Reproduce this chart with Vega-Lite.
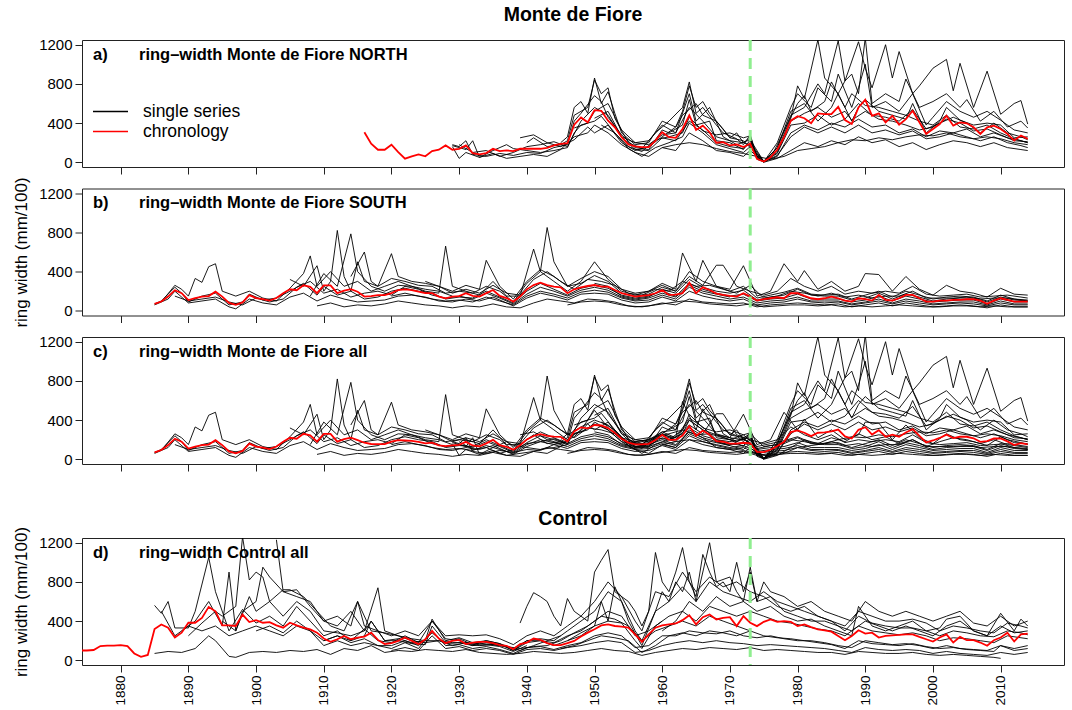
{
"$schema": "https://vega.github.io/schema/vega-lite/v6.json",
"padding": {"left": 12, "top": 4, "right": 2, "bottom": 0},
"config": {
 "font": "Liberation Sans",
 "view": {"stroke": "#222222", "strokeWidth": 1},
 "axis": {"domain": false, "grid": false, "tickColor": "#222222", "tickSize": 7, "labelColor": "black", "labelFontSize": 15, "labelPadding": 3, "titleColor": "black", "titleFontWeight": "normal", "titleFontSize": 17},
 "title": {"color": "black", "fontSize": 19.5, "fontWeight": "bold", "offset": 12, "frame": "group", "anchor": "middle"}
},
"datasets": {
"N": [
{"s":1,"x":1929,"v":180},{"s":1,"x":1930,"v":160},{"s":1,"x":1931,"v":220},{"s":1,"x":1932,"v":80},{"s":1,"x":1934,"v":60},{"s":1,"x":1936,"v":90},{"s":1,"x":1938,"v":70},{"s":1,"x":1940,"v":100},{"s":1,"x":1942,"v":90},{"s":1,"x":1944,"v":150},{"s":1,"x":1946,"v":180},{"s":1,"x":1947,"v":420},{"s":1,"x":1948,"v":500},{"s":1,"x":1950,"v":680},{"s":1,"x":1951,"v":620},{"s":1,"x":1952,"v":460},{"s":1,"x":1954,"v":280},{"s":1,"x":1956,"v":150},{"s":1,"x":1958,"v":130},{"s":1,"x":1960,"v":330},{"s":1,"x":1961,"v":300},{"s":1,"x":1963,"v":380},{"s":1,"x":1964,"v":640},{"s":1,"x":1965,"v":380},{"s":1,"x":1967,"v":420},{"s":1,"x":1968,"v":220},{"s":1,"x":1970,"v":200},{"s":1,"x":1972,"v":130},{"s":1,"x":1973,"v":230},{"s":1,"x":1974,"v":30},{"s":1,"x":1975,"v":5},{"s":1,"x":1977,"v":150},{"s":1,"x":1979,"v":520},{"s":1,"x":1981,"v":600},{"s":1,"x":1983,"v":420},{"s":1,"x":1985,"v":560},{"s":1,"x":1986,"v":700},{"s":1,"x":1988,"v":420},{"s":1,"x":1989,"v":560},{"s":1,"x":1990,"v":640},{"s":1,"x":1992,"v":520},{"s":1,"x":1994,"v":480},{"s":1,"x":1996,"v":440},{"s":1,"x":1997,"v":600},{"s":1,"x":1999,"v":300},{"s":1,"x":2001,"v":420},{"s":1,"x":2002,"v":560},{"s":1,"x":2004,"v":430},{"s":1,"x":2006,"v":380},{"s":1,"x":2008,"v":400},{"s":1,"x":2010,"v":380},{"s":1,"x":2012,"v":250},{"s":1,"x":2014,"v":260},
{"s":2,"x":1929,"v":160},{"s":2,"x":1930,"v":40},{"s":2,"x":1931,"v":100},{"s":2,"x":1933,"v":50},{"s":2,"x":1935,"v":90},{"s":2,"x":1937,"v":40},{"s":2,"x":1939,"v":60},{"s":2,"x":1941,"v":80},{"s":2,"x":1943,"v":60},{"s":2,"x":1945,"v":130},{"s":2,"x":1947,"v":260},{"s":2,"x":1949,"v":300},{"s":2,"x":1950,"v":380},{"s":2,"x":1952,"v":300},{"s":2,"x":1954,"v":180},{"s":2,"x":1956,"v":100},{"s":2,"x":1958,"v":60},{"s":2,"x":1960,"v":150},{"s":2,"x":1962,"v":120},{"s":2,"x":1964,"v":300},{"s":2,"x":1966,"v":220},{"s":2,"x":1968,"v":120},{"s":2,"x":1970,"v":100},{"s":2,"x":1972,"v":60},{"s":2,"x":1973,"v":120},{"s":2,"x":1975,"v":0},{"s":2,"x":1977,"v":40},{"s":2,"x":1979,"v":120},{"s":2,"x":1981,"v":200},{"s":2,"x":1983,"v":160},{"s":2,"x":1985,"v":220},{"s":2,"x":1987,"v":180},{"s":2,"x":1989,"v":260},{"s":2,"x":1991,"v":200},{"s":2,"x":1993,"v":230},{"s":2,"x":1995,"v":160},{"s":2,"x":1997,"v":200},{"s":2,"x":1999,"v":130},{"s":2,"x":2001,"v":180},{"s":2,"x":2003,"v":220},{"s":2,"x":2005,"v":200},{"s":2,"x":2007,"v":160},{"s":2,"x":2009,"v":200},{"s":2,"x":2011,"v":150},{"s":2,"x":2013,"v":130},{"s":2,"x":2014,"v":120},
{"s":3,"x":1940,"v":200},{"s":3,"x":1941,"v":250},{"s":3,"x":1943,"v":160},{"s":3,"x":1945,"v":180},{"s":3,"x":1946,"v":220},{"s":3,"x":1947,"v":480},{"s":3,"x":1949,"v":560},{"s":3,"x":1950,"v":840},{"s":3,"x":1951,"v":700},{"s":3,"x":1952,"v":760},{"s":3,"x":1953,"v":450},{"s":3,"x":1955,"v":200},{"s":3,"x":1957,"v":140},{"s":3,"x":1959,"v":300},{"s":3,"x":1961,"v":420},{"s":3,"x":1963,"v":560},{"s":3,"x":1964,"v":820},{"s":3,"x":1965,"v":500},{"s":3,"x":1966,"v":560},{"s":3,"x":1968,"v":380},{"s":3,"x":1969,"v":300},{"s":3,"x":1971,"v":240},{"s":3,"x":1972,"v":180},{"s":3,"x":1973,"v":280},{"s":3,"x":1974,"v":60},{"s":3,"x":1975,"v":5},{"s":3,"x":1976,"v":40},{"s":3,"x":1978,"v":320},{"s":3,"x":1980,"v":600},{"s":3,"x":1981,"v":680},{"s":3,"x":1982,"v":520},{"s":3,"x":1984,"v":620},{"s":3,"x":1985,"v":820},{"s":3,"x":1987,"v":560},{"s":3,"x":1988,"v":700},{"s":3,"x":1990,"v":580},{"s":3,"x":1992,"v":560},{"s":3,"x":1994,"v":520},{"s":3,"x":1996,"v":480},{"s":3,"x":1998,"v":420},{"s":3,"x":2000,"v":380},{"s":3,"x":2002,"v":480},{"s":3,"x":2004,"v":360},{"s":3,"x":2006,"v":340},{"s":3,"x":2008,"v":380},{"s":3,"x":2010,"v":300},{"s":3,"x":2012,"v":240},{"s":3,"x":2014,"v":200},
{"s":4,"x":1929,"v":170},{"s":4,"x":1931,"v":130},{"s":4,"x":1932,"v":220},{"s":4,"x":1933,"v":50},{"s":4,"x":1935,"v":120},{"s":4,"x":1937,"v":180},{"s":4,"x":1938,"v":140},{"s":4,"x":1940,"v":120},{"s":4,"x":1942,"v":100},{"s":4,"x":1944,"v":120},{"s":4,"x":1946,"v":150},{"s":4,"x":1947,"v":300},{"s":4,"x":1948,"v":380},{"s":4,"x":1950,"v":420},{"s":4,"x":1951,"v":470},{"s":4,"x":1953,"v":300},{"s":4,"x":1955,"v":140},{"s":4,"x":1957,"v":60},{"s":4,"x":1959,"v":150},{"s":4,"x":1961,"v":200},{"s":4,"x":1963,"v":260},{"s":4,"x":1964,"v":400},{"s":4,"x":1966,"v":300},{"s":4,"x":1968,"v":180},{"s":4,"x":1970,"v":140},{"s":4,"x":1972,"v":100},{"s":4,"x":1973,"v":160},{"s":4,"x":1975,"v":5},{"s":4,"x":1977,"v":70},{"s":4,"x":1979,"v":260},{"s":4,"x":1981,"v":360},{"s":4,"x":1983,"v":300},{"s":4,"x":1985,"v":360},{"s":4,"x":1987,"v":300},{"s":4,"x":1989,"v":380},{"s":4,"x":1991,"v":300},{"s":4,"x":1993,"v":330},{"s":4,"x":1995,"v":280},{"s":4,"x":1997,"v":320},{"s":4,"x":1999,"v":240},{"s":4,"x":2001,"v":260},{"s":4,"x":2003,"v":300},{"s":4,"x":2005,"v":260},{"s":4,"x":2007,"v":220},{"s":4,"x":2009,"v":260},{"s":4,"x":2011,"v":200},{"s":4,"x":2013,"v":170},{"s":4,"x":2014,"v":150},
{"s":5,"x":1945,"v":200},{"s":5,"x":1946,"v":260},{"s":5,"x":1947,"v":560},{"s":5,"x":1948,"v":620},{"s":5,"x":1949,"v":500},{"s":5,"x":1950,"v":860},{"s":5,"x":1951,"v":600},{"s":5,"x":1952,"v":720},{"s":5,"x":1953,"v":500},{"s":5,"x":1954,"v":300},{"s":5,"x":1956,"v":180},{"s":5,"x":1958,"v":200},{"s":5,"x":1960,"v":420},{"s":5,"x":1962,"v":360},{"s":5,"x":1963,"v":520},{"s":5,"x":1964,"v":780},{"s":5,"x":1965,"v":560},{"s":5,"x":1966,"v":620},{"s":5,"x":1967,"v":500},{"s":5,"x":1969,"v":340},{"s":5,"x":1970,"v":250},{"s":5,"x":1971,"v":300},{"s":5,"x":1972,"v":200},{"s":5,"x":1973,"v":250},{"s":5,"x":1974,"v":40},{"s":5,"x":1975,"v":5},{"s":5,"x":1977,"v":200},{"s":5,"x":1979,"v":560},{"s":5,"x":1980,"v":700},{"s":5,"x":1982,"v":560},{"s":5,"x":1983,"v":760},{"s":5,"x":1985,"v":620},{"s":5,"x":1986,"v":900},{"s":5,"x":1988,"v":560},{"s":5,"x":1989,"v":760},{"s":5,"x":1990,"v":1000},{"s":5,"x":1991,"v":560},{"s":5,"x":1993,"v":620},{"s":5,"x":1995,"v":520},{"s":5,"x":1997,"v":700},{"s":5,"x":1999,"v":380},{"s":5,"x":2000,"v":460},{"s":5,"x":2002,"v":620},{"s":5,"x":2004,"v":520},{"s":5,"x":2006,"v":460},{"s":5,"x":2008,"v":520},{"s":5,"x":2010,"v":430},{"s":5,"x":2012,"v":330},{"s":5,"x":2014,"v":300},
{"s":6,"x":1947,"v":350},{"s":6,"x":1949,"v":400},{"s":6,"x":1950,"v":520},{"s":6,"x":1952,"v":600},{"s":6,"x":1954,"v":330},{"s":6,"x":1956,"v":200},{"s":6,"x":1958,"v":180},{"s":6,"x":1960,"v":280},{"s":6,"x":1962,"v":300},{"s":6,"x":1964,"v":560},{"s":6,"x":1966,"v":420},{"s":6,"x":1968,"v":260},{"s":6,"x":1970,"v":220},{"s":6,"x":1972,"v":200},{"s":6,"x":1973,"v":170},{"s":6,"x":1975,"v":10},{"s":6,"x":1977,"v":120},{"s":6,"x":1979,"v":450},{"s":6,"x":1980,"v":780},{"s":6,"x":1981,"v":650},{"s":6,"x":1983,"v":1250},{"s":6,"x":1984,"v":860},{"s":6,"x":1986,"v":700},{"s":6,"x":1987,"v":830},{"s":6,"x":1989,"v":1230},{"s":6,"x":1990,"v":960},{"s":6,"x":1991,"v":760},{"s":6,"x":1993,"v":1200},{"s":6,"x":1994,"v":860},{"s":6,"x":1995,"v":1130},{"s":6,"x":1997,"v":700},{"s":6,"x":1998,"v":780},{"s":6,"x":2000,"v":960},{"s":6,"x":2002,"v":1050},{"s":6,"x":2003,"v":730},{"s":6,"x":2004,"v":1010},{"s":6,"x":2006,"v":560},{"s":6,"x":2008,"v":930},{"s":6,"x":2010,"v":490},{"s":6,"x":2012,"v":600},{"s":6,"x":2013,"v":630},{"s":6,"x":2014,"v":390},
{"s":7,"x":1950,"v":450},{"s":7,"x":1952,"v":520},{"s":7,"x":1954,"v":260},{"s":7,"x":1956,"v":130},{"s":7,"x":1958,"v":120},{"s":7,"x":1960,"v":250},{"s":7,"x":1962,"v":220},{"s":7,"x":1964,"v":420},{"s":7,"x":1966,"v":330},{"s":7,"x":1968,"v":200},{"s":7,"x":1970,"v":160},{"s":7,"x":1972,"v":140},{"s":7,"x":1973,"v":200},{"s":7,"x":1975,"v":8},{"s":7,"x":1977,"v":150},{"s":7,"x":1979,"v":480},{"s":7,"x":1981,"v":560},{"s":7,"x":1983,"v":800},{"s":7,"x":1984,"v":700},{"s":7,"x":1986,"v":1240},{"s":7,"x":1987,"v":830},{"s":7,"x":1988,"v":900},{"s":7,"x":1989,"v":700},{"s":7,"x":1990,"v":1270},{"s":7,"x":1991,"v":600},{"s":7,"x":1993,"v":700},{"s":7,"x":1995,"v":620},{"s":7,"x":1996,"v":850},{"s":7,"x":1998,"v":560},{"s":7,"x":2000,"v":620},{"s":7,"x":2002,"v":700},{"s":7,"x":2004,"v":560},{"s":7,"x":2005,"v":640},{"s":7,"x":2007,"v":420},{"s":7,"x":2009,"v":520},{"s":7,"x":2011,"v":360},{"s":7,"x":2013,"v":420},{"s":7,"x":2014,"v":350},
{"s":8,"x":1930,"v":180},{"s":8,"x":1932,"v":100},{"s":8,"x":1934,"v":120},{"s":8,"x":1936,"v":60},{"s":8,"x":1938,"v":100},{"s":8,"x":1940,"v":160},{"s":8,"x":1942,"v":180},{"s":8,"x":1944,"v":210},{"s":8,"x":1946,"v":160},{"s":8,"x":1948,"v":420},{"s":8,"x":1950,"v":560},{"s":8,"x":1952,"v":480},{"s":8,"x":1954,"v":260},{"s":8,"x":1956,"v":200},{"s":8,"x":1958,"v":220},{"s":8,"x":1960,"v":380},{"s":8,"x":1962,"v":300},{"s":8,"x":1964,"v":700},{"s":8,"x":1965,"v":420},{"s":8,"x":1967,"v":560},{"s":8,"x":1969,"v":260},{"s":8,"x":1971,"v":180},{"s":8,"x":1973,"v":230},{"s":8,"x":1975,"v":10},{"s":8,"x":1977,"v":100},{"s":8,"x":1979,"v":420},{"s":8,"x":1981,"v":500},{"s":8,"x":1983,"v":560},{"s":8,"x":1985,"v":460},{"s":8,"x":1987,"v":520},{"s":8,"x":1988,"v":430},{"s":8,"x":1990,"v":520},{"s":8,"x":1992,"v":440},{"s":8,"x":1994,"v":420},{"s":8,"x":1996,"v":380},{"s":8,"x":1998,"v":330},{"s":8,"x":2000,"v":360},{"s":8,"x":2002,"v":440},{"s":8,"x":2004,"v":400},{"s":8,"x":2006,"v":320},{"s":8,"x":2008,"v":340},{"s":8,"x":2010,"v":280},{"s":8,"x":2012,"v":220},{"s":8,"x":2014,"v":210},
{"s":9,"x":1951,"v":380},{"s":9,"x":1953,"v":300},{"s":9,"x":1955,"v":160},{"s":9,"x":1957,"v":110},{"s":9,"x":1959,"v":230},{"s":9,"x":1961,"v":260},{"s":9,"x":1963,"v":300},{"s":9,"x":1964,"v":460},{"s":9,"x":1966,"v":320},{"s":9,"x":1968,"v":280},{"s":9,"x":1970,"v":300},{"s":9,"x":1972,"v":250},{"s":9,"x":1973,"v":270},{"s":9,"x":1974,"v":50},{"s":9,"x":1975,"v":5},{"s":9,"x":1977,"v":60},{"s":9,"x":1979,"v":300},{"s":9,"x":1981,"v":380},{"s":9,"x":1983,"v":330},{"s":9,"x":1985,"v":400},{"s":9,"x":1987,"v":360},{"s":9,"x":1989,"v":440},{"s":9,"x":1991,"v":360},{"s":9,"x":1993,"v":380},{"s":9,"x":1995,"v":300},{"s":9,"x":1997,"v":340},{"s":9,"x":1999,"v":260},{"s":9,"x":2001,"v":320},{"s":9,"x":2003,"v":300},{"s":9,"x":2005,"v":340},{"s":9,"x":2007,"v":260},{"s":9,"x":2009,"v":300},{"s":9,"x":2011,"v":250},{"s":9,"x":2013,"v":220},{"s":9,"x":2014,"v":200},
{"s":10,"x":1960,"v":150},{"s":10,"x":1962,"v":180},{"s":10,"x":1964,"v":200},{"s":10,"x":1966,"v":180},{"s":10,"x":1968,"v":140},{"s":10,"x":1970,"v":110},{"s":10,"x":1972,"v":90},{"s":10,"x":1974,"v":60},{"s":10,"x":1976,"v":30},{"s":10,"x":1978,"v":60},{"s":10,"x":1980,"v":120},{"s":10,"x":1982,"v":140},{"s":10,"x":1984,"v":160},{"s":10,"x":1986,"v":200},{"s":10,"x":1988,"v":230},{"s":10,"x":1990,"v":220},{"s":10,"x":1992,"v":250},{"s":10,"x":1994,"v":230},{"s":10,"x":1996,"v":260},{"s":10,"x":1998,"v":280},{"s":10,"x":2000,"v":270},{"s":10,"x":2002,"v":300},{"s":10,"x":2004,"v":260},{"s":10,"x":2006,"v":240},{"s":10,"x":2008,"v":260},{"s":10,"x":2010,"v":240},{"s":10,"x":2012,"v":200},{"s":10,"x":2014,"v":180},
{"s":11,"x":1939,"v":250},{"s":11,"x":1941,"v":280},{"s":11,"x":1943,"v":200},{"s":11,"x":1945,"v":160},{"s":11,"x":1947,"v":230},{"s":11,"x":1949,"v":360},{"s":11,"x":1950,"v":300},{"s":11,"x":1952,"v":380},{"s":11,"x":1954,"v":200},{"s":11,"x":1956,"v":120},{"s":11,"x":1958,"v":160},{"s":11,"x":1960,"v":260},{"s":11,"x":1962,"v":360},{"s":11,"x":1963,"v":480},{"s":11,"x":1965,"v":600},{"s":11,"x":1966,"v":480},{"s":11,"x":1968,"v":420},{"s":11,"x":1970,"v":250},{"s":11,"x":1972,"v":220},{"s":11,"x":1973,"v":150},{"s":11,"x":1975,"v":8},{"s":11,"x":1977,"v":90},{"s":11,"x":1979,"v":380},{"s":11,"x":1981,"v":400},{"s":11,"x":1983,"v":480},{"s":11,"x":1985,"v":380},{"s":11,"x":1987,"v":440},{"s":11,"x":1989,"v":600},{"s":11,"x":1991,"v":480},{"s":11,"x":1993,"v":460},{"s":11,"x":1995,"v":420},{"s":11,"x":1997,"v":540},{"s":11,"x":1999,"v":340},{"s":11,"x":2001,"v":400},{"s":11,"x":2003,"v":460},{"s":11,"x":2005,"v":400},{"s":11,"x":2007,"v":300},{"s":11,"x":2009,"v":400},{"s":11,"x":2011,"v":300},{"s":11,"x":2013,"v":260},{"s":11,"x":2014,"v":230}
],
"S": [
{"s":1,"x":1885,"v":70},{"s":1,"x":1886,"v":100},{"s":1,"x":1888,"v":240},{"s":1,"x":1889,"v":180},{"s":1,"x":1890,"v":90},{"s":1,"x":1892,"v":150},{"s":1,"x":1894,"v":180},{"s":1,"x":1896,"v":60},{"s":1,"x":1898,"v":90},{"s":1,"x":1899,"v":170},{"s":1,"x":1901,"v":110},{"s":1,"x":1903,"v":130},{"s":1,"x":1905,"v":200},{"s":1,"x":1907,"v":280},{"s":1,"x":1909,"v":160},{"s":1,"x":1910,"v":250},{"s":1,"x":1912,"v":160},{"s":1,"x":1914,"v":200},{"s":1,"x":1916,"v":120},{"s":1,"x":1918,"v":140},{"s":1,"x":1920,"v":200},{"s":1,"x":1922,"v":230},{"s":1,"x":1924,"v":200},{"s":1,"x":1926,"v":180},{"s":1,"x":1928,"v":120},{"s":1,"x":1930,"v":140},{"s":1,"x":1932,"v":130},{"s":1,"x":1934,"v":200},{"s":1,"x":1936,"v":140},{"s":1,"x":1938,"v":80},{"s":1,"x":1940,"v":200},{"s":1,"x":1942,"v":280},{"s":1,"x":1944,"v":220},{"s":1,"x":1946,"v":160},{"s":1,"x":1948,"v":230},{"s":1,"x":1950,"v":260},{"s":1,"x":1952,"v":230},{"s":1,"x":1954,"v":160},{"s":1,"x":1956,"v":130},{"s":1,"x":1958,"v":150},{"s":1,"x":1960,"v":200},{"s":1,"x":1962,"v":150},{"s":1,"x":1964,"v":280},{"s":1,"x":1966,"v":220},{"s":1,"x":1968,"v":180},{"s":1,"x":1970,"v":150},{"s":1,"x":1972,"v":170},{"s":1,"x":1974,"v":100},{"s":1,"x":1976,"v":120},{"s":1,"x":1978,"v":130},{"s":1,"x":1980,"v":170},{"s":1,"x":1982,"v":120},{"s":1,"x":1984,"v":120},{"s":1,"x":1986,"v":120},{"s":1,"x":1988,"v":90},{"s":1,"x":1990,"v":110},{"s":1,"x":1992,"v":150},{"s":1,"x":1994,"v":100},{"s":1,"x":1996,"v":150},{"s":1,"x":1998,"v":120},{"s":1,"x":2000,"v":90},{"s":1,"x":2002,"v":100},{"s":1,"x":2004,"v":110},{"s":1,"x":2006,"v":110},{"s":1,"x":2008,"v":70},{"s":1,"x":2010,"v":120},{"s":1,"x":2012,"v":90},{"s":1,"x":2014,"v":90},
{"s":2,"x":1885,"v":60},{"s":2,"x":1887,"v":120},{"s":2,"x":1888,"v":200},{"s":2,"x":1890,"v":80},{"s":2,"x":1892,"v":100},{"s":2,"x":1894,"v":120},{"s":2,"x":1896,"v":40},{"s":2,"x":1897,"v":20},{"s":2,"x":1899,"v":120},{"s":2,"x":1901,"v":80},{"s":2,"x":1903,"v":60},{"s":2,"x":1905,"v":140},{"s":2,"x":1907,"v":180},{"s":2,"x":1909,"v":100},{"s":2,"x":1911,"v":160},{"s":2,"x":1913,"v":120},{"s":2,"x":1915,"v":90},{"s":2,"x":1917,"v":100},{"s":2,"x":1919,"v":110},{"s":2,"x":1921,"v":150},{"s":2,"x":1923,"v":160},{"s":2,"x":1925,"v":140},{"s":2,"x":1927,"v":100},{"s":2,"x":1929,"v":90},{"s":2,"x":1931,"v":120},{"s":2,"x":1933,"v":100},{"s":2,"x":1935,"v":140},{"s":2,"x":1937,"v":80},{"s":2,"x":1938,"v":50},{"s":2,"x":1940,"v":130},{"s":2,"x":1942,"v":180},{"s":2,"x":1944,"v":150},{"s":2,"x":1946,"v":110},{"s":2,"x":1948,"v":170},{"s":2,"x":1950,"v":180},{"s":2,"x":1952,"v":170},{"s":2,"x":1954,"v":110},{"s":2,"x":1956,"v":80},{"s":2,"x":1958,"v":90},{"s":2,"x":1960,"v":140},{"s":2,"x":1962,"v":100},{"s":2,"x":1964,"v":200},{"s":2,"x":1966,"v":150},{"s":2,"x":1968,"v":120},{"s":2,"x":1970,"v":100},{"s":2,"x":1972,"v":120},{"s":2,"x":1974,"v":60},{"s":2,"x":1976,"v":80},{"s":2,"x":1978,"v":90},{"s":2,"x":1980,"v":120},{"s":2,"x":1982,"v":90},{"s":2,"x":1984,"v":80},{"s":2,"x":1986,"v":90},{"s":2,"x":1988,"v":60},{"s":2,"x":1990,"v":80},{"s":2,"x":1992,"v":100},{"s":2,"x":1994,"v":70},{"s":2,"x":1996,"v":100},{"s":2,"x":1998,"v":80},{"s":2,"x":2000,"v":60},{"s":2,"x":2002,"v":70},{"s":2,"x":2004,"v":80},{"s":2,"x":2006,"v":70},{"s":2,"x":2008,"v":50},{"s":2,"x":2010,"v":80},{"s":2,"x":2012,"v":60},{"s":2,"x":2014,"v":60},
{"s":3,"x":1886,"v":90},{"s":3,"x":1888,"v":260},{"s":3,"x":1889,"v":220},{"s":3,"x":1890,"v":150},{"s":3,"x":1891,"v":330},{"s":3,"x":1892,"v":290},{"s":3,"x":1893,"v":450},{"s":3,"x":1894,"v":480},{"s":3,"x":1895,"v":200},{"s":3,"x":1897,"v":150},{"s":3,"x":1899,"v":200},{"s":3,"x":1901,"v":130},{"s":3,"x":1903,"v":100},{"s":3,"x":1905,"v":230},{"s":3,"x":1907,"v":380},{"s":3,"x":1908,"v":560},{"s":3,"x":1909,"v":250},{"s":3,"x":1911,"v":400},{"s":3,"x":1913,"v":250},{"s":3,"x":1915,"v":300},{"s":3,"x":1917,"v":200},{"s":3,"x":1919,"v":250},{"s":3,"x":1921,"v":300},{"s":3,"x":1923,"v":250},{"s":3,"x":1925,"v":220},{"s":3,"x":1927,"v":200},{"s":3,"x":1929,"v":150},
{"s":4,"x":1905,"v":320},{"s":4,"x":1907,"v":250},{"s":4,"x":1909,"v":460},{"s":4,"x":1910,"v":200},{"s":4,"x":1911,"v":300},{"s":4,"x":1912,"v":820},{"s":4,"x":1913,"v":350},{"s":4,"x":1914,"v":200},{"s":4,"x":1915,"v":500},{"s":4,"x":1916,"v":300},{"s":4,"x":1918,"v":250},{"s":4,"x":1920,"v":330},{"s":4,"x":1922,"v":300},{"s":4,"x":1924,"v":260},{"s":4,"x":1926,"v":250},{"s":4,"x":1928,"v":180},{"s":4,"x":1930,"v":200},{"s":4,"x":1932,"v":180},{"s":4,"x":1934,"v":250},{"s":4,"x":1936,"v":200},{"s":4,"x":1938,"v":90},{"s":4,"x":1940,"v":280},{"s":4,"x":1942,"v":400},{"s":4,"x":1943,"v":850},{"s":4,"x":1944,"v":500},{"s":4,"x":1946,"v":250},{"s":4,"x":1948,"v":330},{"s":4,"x":1950,"v":400},{"s":4,"x":1952,"v":350},{"s":4,"x":1954,"v":220},{"s":4,"x":1956,"v":180},{"s":4,"x":1958,"v":200},{"s":4,"x":1960,"v":260},{"s":4,"x":1962,"v":200},{"s":4,"x":1964,"v":400},{"s":4,"x":1966,"v":300},{"s":4,"x":1968,"v":250},{"s":4,"x":1970,"v":200},{"s":4,"x":1972,"v":250},{"s":4,"x":1974,"v":130},{"s":4,"x":1976,"v":160},{"s":4,"x":1978,"v":190},{"s":4,"x":1980,"v":230},{"s":4,"x":1982,"v":170},{"s":4,"x":1984,"v":160},{"s":4,"x":1986,"v":170},{"s":4,"x":1988,"v":120},{"s":4,"x":1990,"v":160},{"s":4,"x":1992,"v":200},{"s":4,"x":1994,"v":140},{"s":4,"x":1996,"v":200},{"s":4,"x":1998,"v":160},{"s":4,"x":2000,"v":120},{"s":4,"x":2002,"v":140},{"s":4,"x":2004,"v":150},{"s":4,"x":2006,"v":140},{"s":4,"x":2008,"v":100},{"s":4,"x":2010,"v":160},{"s":4,"x":2012,"v":120},{"s":4,"x":2014,"v":110},
{"s":5,"x":1908,"v":150},{"s":5,"x":1910,"v":380},{"s":5,"x":1912,"v":250},{"s":5,"x":1914,"v":785},{"s":5,"x":1915,"v":400},{"s":5,"x":1917,"v":250},{"s":5,"x":1919,"v":200},{"s":5,"x":1921,"v":260},{"s":5,"x":1923,"v":250},{"s":5,"x":1925,"v":200},{"s":5,"x":1927,"v":180},{"s":5,"x":1928,"v":660},{"s":5,"x":1929,"v":250},{"s":5,"x":1931,"v":200},{"s":5,"x":1933,"v":160},{"s":5,"x":1935,"v":300},{"s":5,"x":1937,"v":150},{"s":5,"x":1939,"v":150},{"s":5,"x":1941,"v":630},{"s":5,"x":1942,"v":400},{"s":5,"x":1944,"v":300},{"s":5,"x":1946,"v":200},{"s":5,"x":1948,"v":300},{"s":5,"x":1950,"v":500},{"s":5,"x":1952,"v":320},{"s":5,"x":1954,"v":200},{"s":5,"x":1956,"v":160},{"s":5,"x":1958,"v":200},{"s":5,"x":1960,"v":280},{"s":5,"x":1962,"v":220},{"s":5,"x":1963,"v":590},{"s":5,"x":1965,"v":300},{"s":5,"x":1966,"v":515},{"s":5,"x":1968,"v":250},{"s":5,"x":1970,"v":220},{"s":5,"x":1972,"v":460},{"s":5,"x":1974,"v":150},{"s":5,"x":1976,"v":200},{"s":5,"x":1978,"v":480},{"s":5,"x":1980,"v":300},{"s":5,"x":1981,"v":410},{"s":5,"x":1983,"v":220},{"s":5,"x":1985,"v":300},{"s":5,"x":1987,"v":200},{"s":5,"x":1989,"v":250},{"s":5,"x":1990,"v":380},{"s":5,"x":1992,"v":370},{"s":5,"x":1994,"v":200},{"s":5,"x":1996,"v":350},{"s":5,"x":1998,"v":220},{"s":5,"x":2000,"v":160},{"s":5,"x":2002,"v":260},{"s":5,"x":2004,"v":200},{"s":5,"x":2006,"v":180},{"s":5,"x":2008,"v":140},{"s":5,"x":2010,"v":230},{"s":5,"x":2012,"v":170},{"s":5,"x":2014,"v":160},
{"s":6,"x":1909,"v":50},{"s":6,"x":1911,"v":80},{"s":6,"x":1913,"v":40},{"s":6,"x":1915,"v":60},{"s":6,"x":1917,"v":50},{"s":6,"x":1919,"v":70},{"s":6,"x":1921,"v":100},{"s":6,"x":1923,"v":80},{"s":6,"x":1925,"v":60},{"s":6,"x":1927,"v":50},{"s":6,"x":1929,"v":30},{"s":6,"x":1931,"v":50},{"s":6,"x":1933,"v":40},{"s":6,"x":1935,"v":70},{"s":6,"x":1937,"v":40},{"s":6,"x":1939,"v":30},{"s":6,"x":1941,"v":80},{"s":6,"x":1943,"v":120},{"s":6,"x":1945,"v":100},{"s":6,"x":1947,"v":80},{"s":6,"x":1949,"v":120},{"s":6,"x":1951,"v":110},{"s":6,"x":1953,"v":90},{"s":6,"x":1955,"v":50},{"s":6,"x":1957,"v":40},{"s":6,"x":1959,"v":60},{"s":6,"x":1961,"v":80},{"s":6,"x":1963,"v":100},{"s":6,"x":1965,"v":90},{"s":6,"x":1967,"v":70},{"s":6,"x":1969,"v":60},{"s":6,"x":1971,"v":50},{"s":6,"x":1973,"v":70},{"s":6,"x":1975,"v":40},{"s":6,"x":1977,"v":50},{"s":6,"x":1979,"v":60},{"s":6,"x":1981,"v":60},{"s":6,"x":1983,"v":50},{"s":6,"x":1985,"v":60},{"s":6,"x":1987,"v":40},{"s":6,"x":1989,"v":50},{"s":6,"x":1991,"v":40},{"s":6,"x":1993,"v":50},{"s":6,"x":1995,"v":60},{"s":6,"x":1997,"v":50},{"s":6,"x":1999,"v":40},{"s":6,"x":2001,"v":40},{"s":6,"x":2003,"v":50},{"s":6,"x":2005,"v":50},{"s":6,"x":2007,"v":40},{"s":6,"x":2009,"v":50},{"s":6,"x":2011,"v":40},{"s":6,"x":2014,"v":40},
{"s":7,"x":1914,"v":350},{"s":7,"x":1916,"v":600},{"s":7,"x":1917,"v":300},{"s":7,"x":1918,"v":250},{"s":7,"x":1920,"v":583},{"s":7,"x":1921,"v":350},{"s":7,"x":1923,"v":300},{"s":7,"x":1925,"v":280},{"s":7,"x":1927,"v":250},{"s":7,"x":1929,"v":200},{"s":7,"x":1931,"v":260},{"s":7,"x":1933,"v":220},{"s":7,"x":1934,"v":515},{"s":7,"x":1936,"v":250},{"s":7,"x":1938,"v":120},{"s":7,"x":1940,"v":300},{"s":7,"x":1942,"v":420},{"s":7,"x":1944,"v":350},{"s":7,"x":1946,"v":250},{"s":7,"x":1948,"v":280},{"s":7,"x":1950,"v":360},{"s":7,"x":1952,"v":300},{"s":7,"x":1954,"v":180},{"s":7,"x":1956,"v":150},{"s":7,"x":1958,"v":170},{"s":7,"x":1960,"v":240},{"s":7,"x":1962,"v":200},{"s":7,"x":1964,"v":350},{"s":7,"x":1966,"v":260},{"s":7,"x":1968,"v":465},{"s":7,"x":1969,"v":465},{"s":7,"x":1971,"v":250},{"s":7,"x":1973,"v":200},{"s":7,"x":1975,"v":160},{"s":7,"x":1977,"v":200},{"s":7,"x":1979,"v":330},{"s":7,"x":1981,"v":250},{"s":7,"x":1983,"v":200},{"s":7,"x":1985,"v":250},{"s":7,"x":1987,"v":170},{"s":7,"x":1989,"v":200},{"s":7,"x":1991,"v":180},{"s":7,"x":1993,"v":200},{"s":7,"x":1995,"v":180},{"s":7,"x":1997,"v":250},{"s":7,"x":1999,"v":170},{"s":7,"x":2001,"v":150},{"s":7,"x":2003,"v":160},{"s":7,"x":2005,"v":170},{"s":7,"x":2007,"v":140},{"s":7,"x":2009,"v":150},{"s":7,"x":2011,"v":160},{"s":7,"x":2013,"v":140},{"s":7,"x":2014,"v":130},
{"s":8,"x":1920,"v":150},{"s":8,"x":1922,"v":180},{"s":8,"x":1924,"v":150},{"s":8,"x":1926,"v":120},{"s":8,"x":1928,"v":100},{"s":8,"x":1930,"v":110},{"s":8,"x":1932,"v":90},{"s":8,"x":1934,"v":140},{"s":8,"x":1936,"v":100},{"s":8,"x":1938,"v":60},{"s":8,"x":1940,"v":150},{"s":8,"x":1942,"v":200},{"s":8,"x":1944,"v":170},{"s":8,"x":1946,"v":130},{"s":8,"x":1948,"v":190},{"s":8,"x":1950,"v":210},{"s":8,"x":1952,"v":190},{"s":8,"x":1954,"v":130},{"s":8,"x":1956,"v":100},{"s":8,"x":1958,"v":110},{"s":8,"x":1960,"v":160},{"s":8,"x":1962,"v":120},{"s":8,"x":1964,"v":240},{"s":8,"x":1966,"v":180},{"s":8,"x":1968,"v":150},{"s":8,"x":1970,"v":120},{"s":8,"x":1972,"v":140},{"s":8,"x":1974,"v":80},{"s":8,"x":1976,"v":100},{"s":8,"x":1978,"v":110},{"s":8,"x":1980,"v":140},{"s":8,"x":1982,"v":100},{"s":8,"x":1984,"v":100},{"s":8,"x":1986,"v":100},{"s":8,"x":1988,"v":70},{"s":8,"x":1990,"v":90},{"s":8,"x":1992,"v":120},{"s":8,"x":1994,"v":80},{"s":8,"x":1996,"v":120},{"s":8,"x":1998,"v":100},{"s":8,"x":2000,"v":70},{"s":8,"x":2002,"v":80},{"s":8,"x":2004,"v":90},{"s":8,"x":2006,"v":90},{"s":8,"x":2008,"v":60},{"s":8,"x":2010,"v":100},{"s":8,"x":2012,"v":70},{"s":8,"x":2014,"v":70},
{"s":9,"x":1925,"v":300},{"s":9,"x":1927,"v":250},{"s":9,"x":1929,"v":180},{"s":9,"x":1931,"v":220},{"s":9,"x":1933,"v":180},{"s":9,"x":1935,"v":260},{"s":9,"x":1937,"v":180},{"s":9,"x":1939,"v":160},{"s":9,"x":1941,"v":320},{"s":9,"x":1943,"v":400},{"s":9,"x":1945,"v":300},{"s":9,"x":1947,"v":220},{"s":9,"x":1949,"v":320},{"s":9,"x":1951,"v":300},{"s":9,"x":1953,"v":260},{"s":9,"x":1955,"v":180},{"s":9,"x":1957,"v":160},{"s":9,"x":1959,"v":220},{"s":9,"x":1961,"v":200},{"s":9,"x":1963,"v":300},{"s":9,"x":1965,"v":250},{"s":9,"x":1967,"v":260},{"s":9,"x":1969,"v":220},{"s":9,"x":1971,"v":180},{"s":9,"x":1973,"v":260},{"s":9,"x":1975,"v":130},{"s":9,"x":1977,"v":150},{"s":9,"x":1979,"v":200},{"s":9,"x":1981,"v":180},{"s":9,"x":1983,"v":150},{"s":9,"x":1985,"v":180},{"s":9,"x":1987,"v":140},{"s":9,"x":1989,"v":160},{"s":9,"x":1991,"v":130},{"s":9,"x":1993,"v":150},{"s":9,"x":1995,"v":150},{"s":9,"x":1997,"v":200},{"s":9,"x":1999,"v":130},{"s":9,"x":2001,"v":130},{"s":9,"x":2003,"v":130},{"s":9,"x":2005,"v":140},{"s":9,"x":2007,"v":120},{"s":9,"x":2009,"v":130},{"s":9,"x":2011,"v":130},{"s":9,"x":2013,"v":110},{"s":9,"x":2014,"v":100},
{"s":10,"x":1888,"v":150},{"s":10,"x":1890,"v":100},{"s":10,"x":1892,"v":120},{"s":10,"x":1894,"v":140},{"s":10,"x":1896,"v":90},{"s":10,"x":1898,"v":60},{"s":10,"x":1900,"v":130},{"s":10,"x":1902,"v":90},{"s":10,"x":1904,"v":120},{"s":10,"x":1906,"v":240},{"s":10,"x":1908,"v":300},{"s":10,"x":1910,"v":180},{"s":10,"x":1912,"v":220},{"s":10,"x":1914,"v":140},{"s":10,"x":1916,"v":180},{"s":10,"x":1918,"v":200},{"s":10,"x":1920,"v":160},{"s":10,"x":1922,"v":250},{"s":10,"x":1924,"v":220},{"s":10,"x":1926,"v":160},{"s":10,"x":1928,"v":130},{"s":10,"x":1930,"v":150},{"s":10,"x":1932,"v":120},{"s":10,"x":1934,"v":180},{"s":10,"x":1936,"v":130},{"s":10,"x":1938,"v":70},{"s":10,"x":1940,"v":170},{"s":10,"x":1942,"v":240},{"s":10,"x":1944,"v":200},{"s":10,"x":1946,"v":150},{"s":10,"x":1948,"v":210},{"s":10,"x":1950,"v":240},{"s":10,"x":1952,"v":210},{"s":10,"x":1954,"v":140},{"s":10,"x":1956,"v":110},{"s":10,"x":1958,"v":130},{"s":10,"x":1960,"v":180},{"s":10,"x":1962,"v":140},{"s":10,"x":1964,"v":260},{"s":10,"x":1966,"v":200},{"s":10,"x":1968,"v":170},{"s":10,"x":1970,"v":140},
{"s":11,"x":1950,"v":280},{"s":11,"x":1952,"v":250},{"s":11,"x":1954,"v":150},{"s":11,"x":1956,"v":120},{"s":11,"x":1958,"v":140},{"s":11,"x":1960,"v":220},{"s":11,"x":1962,"v":180},{"s":11,"x":1964,"v":320},{"s":11,"x":1966,"v":240},{"s":11,"x":1968,"v":200},{"s":11,"x":1970,"v":180},{"s":11,"x":1972,"v":210},{"s":11,"x":1974,"v":110},{"s":11,"x":1976,"v":140},{"s":11,"x":1978,"v":160},{"s":11,"x":1980,"v":220},{"s":11,"x":1982,"v":160},{"s":11,"x":1984,"v":150},{"s":11,"x":1986,"v":150},{"s":11,"x":1988,"v":110},{"s":11,"x":1990,"v":130},{"s":11,"x":1992,"v":180},{"s":11,"x":1994,"v":120},{"s":11,"x":1996,"v":170},{"s":11,"x":1998,"v":140},{"s":11,"x":2000,"v":100},{"s":11,"x":2002,"v":120},{"s":11,"x":2004,"v":130},{"s":11,"x":2006,"v":130},{"s":11,"x":2008,"v":90},{"s":11,"x":2010,"v":140},{"s":11,"x":2012,"v":110},{"s":11,"x":2014,"v":100},
{"s":12,"x":1946,"v":60},{"s":12,"x":1948,"v":90},{"s":12,"x":1950,"v":100},{"s":12,"x":1952,"v":90},{"s":12,"x":1954,"v":60},{"s":12,"x":1956,"v":40},{"s":12,"x":1958,"v":50},{"s":12,"x":1960,"v":80},{"s":12,"x":1962,"v":60},{"s":12,"x":1964,"v":120},{"s":12,"x":1966,"v":90},{"s":12,"x":1968,"v":80},{"s":12,"x":1970,"v":70},{"s":12,"x":1972,"v":80},{"s":12,"x":1974,"v":40},{"s":12,"x":1976,"v":60},{"s":12,"x":1978,"v":70},{"s":12,"x":1980,"v":80},{"s":12,"x":1982,"v":70},{"s":12,"x":1984,"v":60},{"s":12,"x":1986,"v":70},{"s":12,"x":1988,"v":40},{"s":12,"x":1990,"v":60},{"s":12,"x":1992,"v":80},{"s":12,"x":1994,"v":50},{"s":12,"x":1996,"v":80},{"s":12,"x":1998,"v":60},{"s":12,"x":2000,"v":40},{"s":12,"x":2002,"v":50},{"s":12,"x":2004,"v":60},{"s":12,"x":2006,"v":50},{"s":12,"x":2008,"v":30},{"s":12,"x":2010,"v":60},{"s":12,"x":2012,"v":40},{"s":12,"x":2014,"v":40}
],
"C": [
{"s":1,"x":1885,"v":70},{"s":1,"x":1887,"v":90},{"s":1,"x":1889,"v":80},{"s":1,"x":1891,"v":120},{"s":1,"x":1893,"v":250},{"s":1,"x":1894,"v":200},{"s":1,"x":1896,"v":40},{"s":1,"x":1897,"v":30},{"s":1,"x":1899,"v":80},{"s":1,"x":1901,"v":90},{"s":1,"x":1903,"v":80},{"s":1,"x":1905,"v":100},{"s":1,"x":1907,"v":90},{"s":1,"x":1909,"v":110},{"s":1,"x":1911,"v":60},{"s":1,"x":1913,"v":120},{"s":1,"x":1915,"v":100},{"s":1,"x":1917,"v":150},{"s":1,"x":1919,"v":80},{"s":1,"x":1921,"v":100},{"s":1,"x":1923,"v":90},{"s":1,"x":1925,"v":110},{"s":1,"x":1927,"v":100},{"s":1,"x":1929,"v":90},{"s":1,"x":1931,"v":110},{"s":1,"x":1933,"v":80},{"s":1,"x":1935,"v":70},{"s":1,"x":1937,"v":60},{"s":1,"x":1939,"v":70},{"s":1,"x":1941,"v":90},{"s":1,"x":1943,"v":80},{"s":1,"x":1945,"v":70},{"s":1,"x":1947,"v":80},{"s":1,"x":1949,"v":100},{"s":1,"x":1951,"v":120},{"s":1,"x":1953,"v":100},{"s":1,"x":1955,"v":90},{"s":1,"x":1957,"v":50},{"s":1,"x":1959,"v":80},{"s":1,"x":1961,"v":100},{"s":1,"x":1963,"v":120},{"s":1,"x":1965,"v":110},{"s":1,"x":1967,"v":130},{"s":1,"x":1969,"v":120},{"s":1,"x":1971,"v":110},{"s":1,"x":1973,"v":130},{"s":1,"x":1975,"v":100},{"s":1,"x":1977,"v":110},{"s":1,"x":1979,"v":100},{"s":1,"x":1981,"v":90},{"s":1,"x":1983,"v":80},{"s":1,"x":1985,"v":80},{"s":1,"x":1987,"v":60},{"s":1,"x":1989,"v":90},{"s":1,"x":1991,"v":80},{"s":1,"x":1993,"v":70},{"s":1,"x":1995,"v":70},{"s":1,"x":1997,"v":80},{"s":1,"x":1999,"v":60},{"s":1,"x":2001,"v":50},{"s":1,"x":2003,"v":60},{"s":1,"x":2005,"v":50},{"s":1,"x":2007,"v":40},{"s":1,"x":2009,"v":30},{"s":1,"x":2010,"v":20},
{"s":2,"x":1885,"v":560},{"s":2,"x":1886,"v":480},{"s":2,"x":1887,"v":600},{"s":2,"x":1888,"v":330},{"s":2,"x":1890,"v":330},{"s":2,"x":1891,"v":500},{"s":2,"x":1893,"v":1050},{"s":2,"x":1894,"v":700},{"s":2,"x":1896,"v":300},{"s":2,"x":1898,"v":520},{"s":2,"x":1900,"v":380},{"s":2,"x":1902,"v":450},{"s":2,"x":1904,"v":350},{"s":2,"x":1906,"v":550},{"s":2,"x":1908,"v":400},{"s":2,"x":1910,"v":250},{"s":2,"x":1912,"v":300},{"s":2,"x":1914,"v":200},{"s":2,"x":1916,"v":320},{"s":2,"x":1918,"v":200},{"s":2,"x":1920,"v":180},{"s":2,"x":1922,"v":250},{"s":2,"x":1924,"v":180},{"s":2,"x":1926,"v":400},{"s":2,"x":1928,"v":220},{"s":2,"x":1930,"v":200},{"s":2,"x":1932,"v":150},{"s":2,"x":1934,"v":180},{"s":2,"x":1936,"v":160},{"s":2,"x":1938,"v":100},{"s":2,"x":1940,"v":200},{"s":2,"x":1942,"v":200},{"s":2,"x":1944,"v":180},{"s":2,"x":1946,"v":250},{"s":2,"x":1948,"v":300},{"s":2,"x":1950,"v":400},{"s":2,"x":1952,"v":500},{"s":2,"x":1954,"v":450},{"s":2,"x":1956,"v":250},{"s":2,"x":1958,"v":300},{"s":2,"x":1960,"v":400},
{"s":3,"x":1889,"v":300},{"s":3,"x":1891,"v":400},{"s":3,"x":1893,"v":600},{"s":3,"x":1895,"v":350},{"s":3,"x":1896,"v":900},{"s":3,"x":1897,"v":300},{"s":3,"x":1899,"v":650},{"s":3,"x":1900,"v":500},{"s":3,"x":1902,"v":600},{"s":3,"x":1904,"v":450},{"s":3,"x":1906,"v":600},{"s":3,"x":1908,"v":500},{"s":3,"x":1910,"v":300},{"s":3,"x":1912,"v":280},{"s":3,"x":1914,"v":250},{"s":3,"x":1916,"v":300},{"s":3,"x":1917,"v":400},{"s":3,"x":1919,"v":200},{"s":3,"x":1921,"v":220},{"s":3,"x":1923,"v":180},{"s":3,"x":1925,"v":200},{"s":3,"x":1926,"v":420},{"s":3,"x":1928,"v":200},{"s":3,"x":1930,"v":230},{"s":3,"x":1932,"v":180},{"s":3,"x":1934,"v":200},{"s":3,"x":1936,"v":170},{"s":3,"x":1938,"v":120},{"s":3,"x":1940,"v":200},{"s":3,"x":1942,"v":220},{"s":3,"x":1944,"v":200},{"s":3,"x":1946,"v":300},{"s":3,"x":1948,"v":400},{"s":3,"x":1950,"v":500},{"s":3,"x":1952,"v":700},{"s":3,"x":1954,"v":600},{"s":3,"x":1956,"v":300},{"s":3,"x":1957,"v":200},{"s":3,"x":1959,"v":500},{"s":3,"x":1961,"v":600},{"s":3,"x":1963,"v":750},{"s":3,"x":1965,"v":600},{"s":3,"x":1967,"v":800},{"s":3,"x":1969,"v":700},{"s":3,"x":1971,"v":650},{"s":3,"x":1973,"v":600},{"s":3,"x":1975,"v":700},{"s":3,"x":1977,"v":600},{"s":3,"x":1979,"v":550},{"s":3,"x":1981,"v":500},{"s":3,"x":1983,"v":450},{"s":3,"x":1985,"v":400},{"s":3,"x":1987,"v":300},{"s":3,"x":1989,"v":450},{"s":3,"x":1991,"v":380},{"s":3,"x":1993,"v":350},{"s":3,"x":1995,"v":330},{"s":3,"x":1997,"v":330},{"s":3,"x":1999,"v":300},{"s":3,"x":2001,"v":250},{"s":3,"x":2003,"v":300},{"s":3,"x":2005,"v":280},{"s":3,"x":2007,"v":250},{"s":3,"x":2009,"v":240},{"s":3,"x":2011,"v":300},{"s":3,"x":2013,"v":280},{"s":3,"x":2014,"v":260},
{"s":4,"x":1890,"v":250},{"s":4,"x":1892,"v":380},{"s":4,"x":1894,"v":500},{"s":4,"x":1895,"v":450},{"s":4,"x":1897,"v":550},{"s":4,"x":1898,"v":1260},{"s":4,"x":1899,"v":820},{"s":4,"x":1900,"v":900},{"s":4,"x":1901,"v":850},{"s":4,"x":1902,"v":600},{"s":4,"x":1904,"v":720},{"s":4,"x":1905,"v":720},{"s":4,"x":1907,"v":650},{"s":4,"x":1909,"v":500},{"s":4,"x":1911,"v":350},{"s":4,"x":1913,"v":300},{"s":4,"x":1915,"v":600},{"s":4,"x":1916,"v":350},{"s":4,"x":1918,"v":300},{"s":4,"x":1920,"v":250},{"s":4,"x":1922,"v":300},{"s":4,"x":1924,"v":250},{"s":4,"x":1926,"v":400},{"s":4,"x":1928,"v":250},{"s":4,"x":1930,"v":260},{"s":4,"x":1932,"v":250},{"s":4,"x":1934,"v":260},{"s":4,"x":1936,"v":220},{"s":4,"x":1938,"v":160},{"s":4,"x":1940,"v":250},{"s":4,"x":1942,"v":300},{"s":4,"x":1944,"v":250},{"s":4,"x":1946,"v":350},{"s":4,"x":1948,"v":450},{"s":4,"x":1950,"v":600},{"s":4,"x":1952,"v":800},{"s":4,"x":1954,"v":650},{"s":4,"x":1956,"v":400},{"s":4,"x":1957,"v":300},{"s":4,"x":1959,"v":700},{"s":4,"x":1961,"v":650},{"s":4,"x":1963,"v":900},{"s":4,"x":1965,"v":700},{"s":4,"x":1967,"v":850},{"s":4,"x":1969,"v":750},{"s":4,"x":1971,"v":800},{"s":4,"x":1973,"v":700},{"s":4,"x":1975,"v":650},{"s":4,"x":1977,"v":550},{"s":4,"x":1979,"v":500},{"s":4,"x":1981,"v":550},{"s":4,"x":1983,"v":450},{"s":4,"x":1985,"v":400},{"s":4,"x":1987,"v":350},{"s":4,"x":1989,"v":500},{"s":4,"x":1991,"v":450},{"s":4,"x":1993,"v":400},{"s":4,"x":1995,"v":400},{"s":4,"x":1997,"v":420},{"s":4,"x":1999,"v":380},{"s":4,"x":2001,"v":300},{"s":4,"x":2003,"v":350},{"s":4,"x":2005,"v":330},{"s":4,"x":2007,"v":300},{"s":4,"x":2009,"v":280},{"s":4,"x":2011,"v":380},{"s":4,"x":2013,"v":350},{"s":4,"x":2014,"v":330},
{"s":5,"x":1900,"v":300},{"s":5,"x":1902,"v":350},{"s":5,"x":1904,"v":280},{"s":5,"x":1906,"v":400},{"s":5,"x":1908,"v":300},{"s":5,"x":1910,"v":150},{"s":5,"x":1912,"v":200},{"s":5,"x":1914,"v":150},{"s":5,"x":1916,"v":180},{"s":5,"x":1918,"v":150},{"s":5,"x":1920,"v":120},{"s":5,"x":1922,"v":180},{"s":5,"x":1924,"v":120},{"s":5,"x":1926,"v":300},{"s":5,"x":1928,"v":150},{"s":5,"x":1930,"v":160},{"s":5,"x":1932,"v":120},{"s":5,"x":1934,"v":140},{"s":5,"x":1936,"v":110},{"s":5,"x":1938,"v":70},{"s":5,"x":1940,"v":130},{"s":5,"x":1942,"v":140},{"s":5,"x":1944,"v":110},{"s":5,"x":1946,"v":150},{"s":5,"x":1948,"v":180},{"s":5,"x":1950,"v":250},{"s":5,"x":1952,"v":280},{"s":5,"x":1954,"v":250},{"s":5,"x":1956,"v":130},{"s":5,"x":1958,"v":150},{"s":5,"x":1960,"v":250},{"s":5,"x":1962,"v":250},{"s":5,"x":1964,"v":300},{"s":5,"x":1966,"v":280},{"s":5,"x":1968,"v":270},{"s":5,"x":1970,"v":300},{"s":5,"x":1972,"v":250},{"s":5,"x":1974,"v":230},{"s":5,"x":1976,"v":250},{"s":5,"x":1978,"v":220},{"s":5,"x":1980,"v":200},{"s":5,"x":1982,"v":200},{"s":5,"x":1984,"v":180},{"s":5,"x":1986,"v":150},{"s":5,"x":1988,"v":130},{"s":5,"x":1990,"v":200},{"s":5,"x":1992,"v":180},{"s":5,"x":1994,"v":160},{"s":5,"x":1996,"v":170},{"s":5,"x":1998,"v":150},{"s":5,"x":2000,"v":120},{"s":5,"x":2002,"v":150},{"s":5,"x":2004,"v":120},{"s":5,"x":2006,"v":110},{"s":5,"x":2008,"v":100},{"s":5,"x":2010,"v":150},{"s":5,"x":2012,"v":120},{"s":5,"x":2014,"v":150},
{"s":6,"x":1895,"v":400},{"s":6,"x":1897,"v":300},{"s":6,"x":1898,"v":500},{"s":6,"x":1900,"v":600},{"s":6,"x":1901,"v":950},{"s":6,"x":1902,"v":850},{"s":6,"x":1904,"v":700},{"s":6,"x":1906,"v":650},{"s":6,"x":1908,"v":600},{"s":6,"x":1910,"v":400},{"s":6,"x":1912,"v":350},{"s":6,"x":1914,"v":500},{"s":6,"x":1916,"v":300},{"s":6,"x":1918,"v":740},{"s":6,"x":1919,"v":300},{"s":6,"x":1921,"v":250},{"s":6,"x":1923,"v":220},{"s":6,"x":1925,"v":200},{"s":6,"x":1927,"v":200},{"s":6,"x":1929,"v":180},{"s":6,"x":1931,"v":180},{"s":6,"x":1933,"v":170},{"s":6,"x":1935,"v":160},{"s":6,"x":1937,"v":140},{"s":6,"x":1939,"v":120},{"s":6,"x":1941,"v":140},{"s":6,"x":1943,"v":150},{"s":6,"x":1945,"v":200},{"s":6,"x":1947,"v":280},{"s":6,"x":1949,"v":350},{"s":6,"x":1951,"v":450},{"s":6,"x":1953,"v":420},{"s":6,"x":1955,"v":350},{"s":6,"x":1957,"v":200},{"s":6,"x":1959,"v":300},{"s":6,"x":1961,"v":350},{"s":6,"x":1963,"v":400},{"s":6,"x":1965,"v":350},{"s":6,"x":1967,"v":450},{"s":6,"x":1969,"v":400},{"s":6,"x":1971,"v":350},{"s":6,"x":1973,"v":300},
{"s":7,"x":1939,"v":380},{"s":7,"x":1940,"v":550},{"s":7,"x":1941,"v":690},{"s":7,"x":1942,"v":650},{"s":7,"x":1943,"v":600},{"s":7,"x":1944,"v":450},{"s":7,"x":1945,"v":350},{"s":7,"x":1946,"v":630},{"s":7,"x":1947,"v":500},{"s":7,"x":1949,"v":400},{"s":7,"x":1950,"v":900},{"s":7,"x":1951,"v":1020},{"s":7,"x":1952,"v":1130},{"s":7,"x":1953,"v":700},{"s":7,"x":1955,"v":600},{"s":7,"x":1956,"v":500},{"s":7,"x":1957,"v":350},{"s":7,"x":1958,"v":500},{"s":7,"x":1959,"v":1100},{"s":7,"x":1960,"v":800},{"s":7,"x":1961,"v":700},{"s":7,"x":1962,"v":900},{"s":7,"x":1963,"v":1150},{"s":7,"x":1964,"v":800},{"s":7,"x":1965,"v":650},{"s":7,"x":1966,"v":1080},{"s":7,"x":1967,"v":900},{"s":7,"x":1968,"v":750},{"s":7,"x":1969,"v":800},{"s":7,"x":1970,"v":700},{"s":7,"x":1971,"v":1000},{"s":7,"x":1972,"v":700},{"s":7,"x":1973,"v":900},{"s":7,"x":1974,"v":600},{"s":7,"x":1975,"v":800},{"s":7,"x":1976,"v":700},{"s":7,"x":1978,"v":650},{"s":7,"x":1980,"v":550},{"s":7,"x":1982,"v":600},{"s":7,"x":1984,"v":500},{"s":7,"x":1986,"v":450},{"s":7,"x":1988,"v":400},{"s":7,"x":1990,"v":600},{"s":7,"x":1992,"v":500},{"s":7,"x":1994,"v":450},{"s":7,"x":1996,"v":500},{"s":7,"x":1998,"v":450},{"s":7,"x":2000,"v":400},{"s":7,"x":2002,"v":450},{"s":7,"x":2004,"v":500},{"s":7,"x":2006,"v":380},{"s":7,"x":2008,"v":350},{"s":7,"x":2010,"v":450},{"s":7,"x":2012,"v":350},{"s":7,"x":2014,"v":400},
{"s":8,"x":1946,"v":200},{"s":8,"x":1948,"v":250},{"s":8,"x":1950,"v":350},{"s":8,"x":1951,"v":600},{"s":8,"x":1952,"v":400},{"s":8,"x":1953,"v":750},{"s":8,"x":1954,"v":600},{"s":8,"x":1955,"v":400},{"s":8,"x":1957,"v":150},{"s":8,"x":1959,"v":500},{"s":8,"x":1960,"v":700},{"s":8,"x":1961,"v":600},{"s":8,"x":1962,"v":800},{"s":8,"x":1963,"v":700},{"s":8,"x":1964,"v":900},{"s":8,"x":1965,"v":600},{"s":8,"x":1967,"v":1200},{"s":8,"x":1968,"v":800},{"s":8,"x":1970,"v":850},{"s":8,"x":1971,"v":700},{"s":8,"x":1972,"v":600},{"s":8,"x":1973,"v":950},{"s":8,"x":1974,"v":600},{"s":8,"x":1976,"v":650},{"s":8,"x":1978,"v":500},{"s":8,"x":1980,"v":450},{"s":8,"x":1982,"v":400},{"s":8,"x":1984,"v":400},{"s":8,"x":1986,"v":350},{"s":8,"x":1988,"v":300},{"s":8,"x":1990,"v":400},{"s":8,"x":1992,"v":350},{"s":8,"x":1994,"v":300},{"s":8,"x":1996,"v":350},{"s":8,"x":1998,"v":300},{"s":8,"x":2000,"v":250},{"s":8,"x":2002,"v":350},{"s":8,"x":2004,"v":400},{"s":8,"x":2006,"v":300},{"s":8,"x":2008,"v":250},{"s":8,"x":2010,"v":350},{"s":8,"x":2012,"v":280},{"s":8,"x":2014,"v":300},
{"s":9,"x":1920,"v":100},{"s":9,"x":1922,"v":130},{"s":9,"x":1924,"v":100},{"s":9,"x":1926,"v":250},{"s":9,"x":1928,"v":120},{"s":9,"x":1930,"v":140},{"s":9,"x":1932,"v":100},{"s":9,"x":1934,"v":120},{"s":9,"x":1936,"v":100},{"s":9,"x":1938,"v":60},{"s":9,"x":1940,"v":110},{"s":9,"x":1942,"v":120},{"s":9,"x":1944,"v":100},{"s":9,"x":1946,"v":130},{"s":9,"x":1948,"v":150},{"s":9,"x":1950,"v":180},{"s":9,"x":1952,"v":200},{"s":9,"x":1954,"v":180},{"s":9,"x":1956,"v":80},{"s":9,"x":1958,"v":100},{"s":9,"x":1960,"v":150},{"s":9,"x":1962,"v":180},{"s":9,"x":1964,"v":200},{"s":9,"x":1966,"v":180},{"s":9,"x":1968,"v":200},{"s":9,"x":1970,"v":180},{"s":9,"x":1972,"v":170},{"s":9,"x":1974,"v":150},{"s":9,"x":1976,"v":160},{"s":9,"x":1978,"v":150},{"s":9,"x":1980,"v":140},{"s":9,"x":1982,"v":130},{"s":9,"x":1984,"v":120},{"s":9,"x":1986,"v":100},{"s":9,"x":1988,"v":80},{"s":9,"x":1990,"v":130},{"s":9,"x":1992,"v":110},{"s":9,"x":1994,"v":100},{"s":9,"x":1996,"v":110},{"s":9,"x":1998,"v":100},{"s":9,"x":2000,"v":70},{"s":9,"x":2002,"v":90},{"s":9,"x":2004,"v":70},{"s":9,"x":2006,"v":60},{"s":9,"x":2008,"v":50},{"s":9,"x":2010,"v":80},{"s":9,"x":2012,"v":60},{"s":9,"x":2014,"v":80},
{"s":10,"x":1910,"v":200},{"s":10,"x":1912,"v":250},{"s":10,"x":1914,"v":200},{"s":10,"x":1916,"v":250},{"s":10,"x":1917,"v":400},{"s":10,"x":1919,"v":200},{"s":10,"x":1921,"v":200},{"s":10,"x":1923,"v":170},{"s":10,"x":1925,"v":160},{"s":10,"x":1926,"v":350},{"s":10,"x":1928,"v":180},{"s":10,"x":1930,"v":220},{"s":10,"x":1932,"v":160},{"s":10,"x":1934,"v":200},{"s":10,"x":1936,"v":170},{"s":10,"x":1938,"v":100},{"s":10,"x":1940,"v":180},{"s":10,"x":1942,"v":200},{"s":10,"x":1944,"v":150},{"s":10,"x":1946,"v":200},{"s":10,"x":1948,"v":280},{"s":10,"x":1950,"v":350},{"s":10,"x":1952,"v":400},{"s":10,"x":1954,"v":380},{"s":10,"x":1956,"v":200},{"s":10,"x":1957,"v":120},{"s":10,"x":1959,"v":350},{"s":10,"x":1961,"v":450},{"s":10,"x":1963,"v":500},{"s":10,"x":1965,"v":400},{"s":10,"x":1967,"v":550},{"s":10,"x":1969,"v":500},{"s":10,"x":1971,"v":450},{"s":10,"x":1973,"v":500},{"s":10,"x":1975,"v":450},{"s":10,"x":1977,"v":400},{"s":10,"x":1979,"v":380},{"s":10,"x":1981,"v":350},{"s":10,"x":1983,"v":320},{"s":10,"x":1985,"v":300},{"s":10,"x":1987,"v":250},{"s":10,"x":1989,"v":350},{"s":10,"x":1991,"v":300},{"s":10,"x":1993,"v":280},{"s":10,"x":1995,"v":260},{"s":10,"x":1997,"v":280},{"s":10,"x":1999,"v":250},{"s":10,"x":2001,"v":200},{"s":10,"x":2003,"v":230},{"s":10,"x":2005,"v":220},{"s":10,"x":2007,"v":200},{"s":10,"x":2009,"v":180},{"s":10,"x":2011,"v":250},{"s":10,"x":2013,"v":230},{"s":10,"x":2014,"v":220},
{"s":11,"x":1960,"v":300},{"s":11,"x":1962,"v":400},{"s":11,"x":1964,"v":600},{"s":11,"x":1966,"v":500},{"s":11,"x":1968,"v":650},{"s":11,"x":1970,"v":550},{"s":11,"x":1972,"v":600},{"s":11,"x":1974,"v":500},{"s":11,"x":1976,"v":550},{"s":11,"x":1978,"v":450},{"s":11,"x":1980,"v":400},{"s":11,"x":1982,"v":420},{"s":11,"x":1984,"v":350},{"s":11,"x":1986,"v":300},{"s":11,"x":1988,"v":250},{"s":11,"x":1989,"v":550},{"s":11,"x":1991,"v":350},{"s":11,"x":1993,"v":300},{"s":11,"x":1995,"v":350},{"s":11,"x":1997,"v":400},{"s":11,"x":1999,"v":300},{"s":11,"x":2001,"v":330},{"s":11,"x":2002,"v":420},{"s":11,"x":2004,"v":450},{"s":11,"x":2006,"v":300},{"s":11,"x":2008,"v":250},{"s":11,"x":2010,"v":480},{"s":11,"x":2012,"v":300},{"s":11,"x":2013,"v":420},{"s":11,"x":2014,"v":350},
{"s":12,"x":1903,"v":1230},{"s":12,"x":1904,"v":700},{"s":12,"x":1906,"v":720},{"s":12,"x":1908,"v":550},{"s":12,"x":1910,"v":400},{"s":12,"x":1912,"v":450},{"s":12,"x":1914,"v":350},{"s":12,"x":1915,"v":600},{"s":12,"x":1917,"v":300},{"s":12,"x":1919,"v":280},{"s":12,"x":1921,"v":250},{"s":12,"x":1923,"v":200},{"s":12,"x":1925,"v":180},{"s":12,"x":1927,"v":200},{"s":12,"x":1929,"v":150},{"s":12,"x":1931,"v":180},{"s":12,"x":1933,"v":150},{"s":12,"x":1935,"v":160},{"s":12,"x":1937,"v":140},{"s":12,"x":1939,"v":100},{"s":12,"x":1941,"v":150},{"s":12,"x":1943,"v":200},{"s":12,"x":1945,"v":250},
{"s":13,"x":1886,"v":500},{"s":13,"x":1888,"v":250},{"s":13,"x":1890,"v":350},{"s":13,"x":1892,"v":300},{"s":13,"x":1894,"v":350},{"s":13,"x":1896,"v":250},{"s":13,"x":1898,"v":300},{"s":13,"x":1900,"v":350},{"s":13,"x":1902,"v":300},{"s":13,"x":1904,"v":250},{"s":13,"x":1906,"v":350},{"s":13,"x":1908,"v":300},{"s":13,"x":1910,"v":200},{"s":13,"x":1912,"v":250},{"s":13,"x":1914,"v":180},{"s":13,"x":1916,"v":220},{"s":13,"x":1918,"v":150},{"s":13,"x":1920,"v":150},{"s":13,"x":1922,"v":200},{"s":13,"x":1924,"v":150},{"s":13,"x":1926,"v":280},{"s":13,"x":1928,"v":170},{"s":13,"x":1930,"v":180},{"s":13,"x":1932,"v":150},{"s":13,"x":1934,"v":160},{"s":13,"x":1936,"v":140},{"s":13,"x":1938,"v":90},{"s":13,"x":1940,"v":150},
{"s":14,"x":1945,"v":120},{"s":14,"x":1947,"v":150},{"s":14,"x":1949,"v":200},{"s":14,"x":1951,"v":250},{"s":14,"x":1953,"v":230},{"s":14,"x":1955,"v":200},{"s":14,"x":1957,"v":80},{"s":14,"x":1959,"v":150},{"s":14,"x":1961,"v":250},{"s":14,"x":1963,"v":280},{"s":14,"x":1965,"v":250},{"s":14,"x":1967,"v":300},{"s":14,"x":1969,"v":280},{"s":14,"x":1971,"v":250},{"s":14,"x":1973,"v":300},{"s":14,"x":1975,"v":250},{"s":14,"x":1977,"v":230},{"s":14,"x":1979,"v":220},{"s":14,"x":1981,"v":200},{"s":14,"x":1983,"v":180},{"s":14,"x":1985,"v":160},{"s":14,"x":1987,"v":120},{"s":14,"x":1989,"v":200},{"s":14,"x":1991,"v":170},{"s":14,"x":1993,"v":160},{"s":14,"x":1995,"v":150},{"s":14,"x":1997,"v":170},{"s":14,"x":1999,"v":140},{"s":14,"x":2001,"v":120},{"s":14,"x":2003,"v":130},{"s":14,"x":2005,"v":110},{"s":14,"x":2007,"v":100},{"s":14,"x":2009,"v":90},{"s":14,"x":2010,"v":150},{"s":14,"x":2012,"v":100},{"s":14,"x":2014,"v":120}
],
"ra": [
{"x":1916,"v":307},{"x":1917,"v":189},{"x":1918,"v":128},{"x":1919,"v":128},{"x":1920,"v":179},{"x":1921,"v":104},{"x":1922,"v":37},{"x":1923,"v":61},{"x":1924,"v":81},{"x":1925,"v":61},{"x":1926,"v":115},{"x":1927,"v":128},{"x":1928,"v":172},{"x":1929,"v":128},{"x":1930,"v":138},{"x":1931,"v":172},{"x":1932,"v":94},{"x":1933,"v":81},{"x":1934,"v":94},{"x":1935,"v":138},{"x":1936,"v":115},{"x":1937,"v":121},{"x":1938,"v":115},{"x":1939,"v":138},{"x":1940,"v":138},{"x":1941,"v":138},{"x":1942,"v":138},{"x":1943,"v":148},{"x":1944,"v":172},{"x":1945,"v":189},{"x":1946,"v":195},{"x":1947,"v":384},{"x":1948,"v":458},{"x":1949,"v":408},{"x":1950,"v":532},{"x":1951,"v":526},{"x":1952,"v":425},{"x":1953,"v":357},{"x":1954,"v":256},{"x":1955,"v":182},{"x":1956,"v":162},{"x":1957,"v":155},{"x":1958,"v":155},{"x":1959,"v":222},{"x":1960,"v":307},{"x":1961,"v":256},{"x":1962,"v":249},{"x":1963,"v":340},{"x":1964,"v":480},{"x":1965,"v":330},{"x":1966,"v":374},{"x":1967,"v":307},{"x":1968,"v":200},{"x":1969,"v":205},{"x":1970,"v":172},{"x":1971,"v":182},{"x":1972,"v":155},{"x":1973,"v":189},{"x":1974,"v":35},{"x":1975,"v":8},{"x":1976,"v":50},{"x":1977,"v":130},{"x":1978,"v":256},{"x":1979,"v":425},{"x":1980,"v":470},{"x":1981,"v":450},{"x":1982,"v":398},{"x":1983,"v":499},{"x":1984,"v":492},{"x":1985,"v":492},{"x":1986,"v":566},{"x":1987,"v":431},{"x":1988,"v":391},{"x":1989,"v":560},{"x":1990,"v":640},{"x":1991,"v":475},{"x":1992,"v":499},{"x":1993,"v":408},{"x":1994,"v":475},{"x":1995,"v":384},{"x":1996,"v":440},{"x":1997,"v":526},{"x":1998,"v":408},{"x":1999,"v":290},{"x":2000,"v":340},{"x":2001,"v":391},{"x":2002,"v":475},{"x":2003,"v":374},{"x":2004,"v":408},{"x":2005,"v":398},{"x":2006,"v":357},{"x":2007,"v":290},{"x":2008,"v":357},{"x":2009,"v":374},{"x":2010,"v":340},{"x":2011,"v":290},{"x":2012,"v":222},{"x":2013,"v":273},{"x":2014,"v":239}
],
"rb": [
{"x":1885,"v":70},{"x":1886,"v":95},{"x":1887,"v":145},{"x":1888,"v":210},{"x":1889,"v":180},{"x":1890,"v":110},{"x":1891,"v":130},{"x":1892,"v":145},{"x":1893,"v":150},{"x":1894,"v":195},{"x":1895,"v":145},{"x":1896,"v":80},{"x":1897,"v":60},{"x":1898,"v":85},{"x":1899,"v":160},{"x":1900,"v":130},{"x":1901,"v":120},{"x":1902,"v":105},{"x":1903,"v":130},{"x":1904,"v":180},{"x":1905,"v":220},{"x":1906,"v":210},{"x":1907,"v":260},{"x":1908,"v":245},{"x":1909,"v":180},{"x":1910,"v":260},{"x":1911,"v":260},{"x":1912,"v":180},{"x":1913,"v":205},{"x":1914,"v":220},{"x":1915,"v":195},{"x":1916,"v":145},{"x":1917,"v":150},{"x":1918,"v":160},{"x":1919,"v":160},{"x":1920,"v":180},{"x":1921,"v":212},{"x":1922,"v":219},{"x":1923,"v":212},{"x":1924,"v":195},{"x":1925,"v":180},{"x":1926,"v":180},{"x":1927,"v":145},{"x":1928,"v":128},{"x":1929,"v":145},{"x":1930,"v":150},{"x":1931,"v":180},{"x":1932,"v":152},{"x":1933,"v":145},{"x":1934,"v":180},{"x":1935,"v":212},{"x":1936,"v":152},{"x":1937,"v":130},{"x":1938,"v":94},{"x":1939,"v":145},{"x":1940,"v":219},{"x":1941,"v":263},{"x":1942,"v":286},{"x":1943,"v":263},{"x":1944,"v":246},{"x":1945,"v":239},{"x":1946,"v":179},{"x":1947,"v":219},{"x":1948,"v":239},{"x":1949,"v":253},{"x":1950,"v":263},{"x":1951,"v":246},{"x":1952,"v":246},{"x":1953,"v":212},{"x":1954,"v":180},{"x":1955,"v":162},{"x":1956,"v":145},{"x":1957,"v":152},{"x":1958,"v":160},{"x":1959,"v":179},{"x":1960,"v":212},{"x":1961,"v":162},{"x":1962,"v":165},{"x":1963,"v":179},{"x":1964,"v":286},{"x":1965,"v":179},{"x":1966,"v":239},{"x":1967,"v":212},{"x":1968,"v":175},{"x":1969,"v":162},{"x":1970,"v":152},{"x":1971,"v":145},{"x":1972,"v":179},{"x":1973,"v":145},{"x":1974,"v":104},{"x":1975,"v":118},{"x":1976,"v":128},{"x":1977,"v":138},{"x":1978,"v":128},{"x":1979,"v":179},{"x":1980,"v":179},{"x":1981,"v":152},{"x":1982,"v":128},{"x":1983,"v":118},{"x":1984,"v":128},{"x":1985,"v":145},{"x":1986,"v":128},{"x":1987,"v":104},{"x":1988,"v":94},{"x":1989,"v":128},{"x":1990,"v":118},{"x":1991,"v":104},{"x":1992,"v":162},{"x":1993,"v":111},{"x":1994,"v":104},{"x":1995,"v":128},{"x":1996,"v":162},{"x":1997,"v":162},{"x":1998,"v":128},{"x":1999,"v":94},{"x":2000,"v":94},{"x":2001,"v":104},{"x":2002,"v":104},{"x":2003,"v":111},{"x":2004,"v":111},{"x":2005,"v":118},{"x":2006,"v":118},{"x":2007,"v":104},{"x":2008,"v":71},{"x":2009,"v":104},{"x":2010,"v":128},{"x":2011,"v":111},{"x":2012,"v":94},{"x":2013,"v":94},{"x":2014,"v":94}
],
"rc": [
{"x":1885,"v":70},{"x":1886,"v":95},{"x":1887,"v":145},{"x":1888,"v":210},{"x":1889,"v":180},{"x":1890,"v":110},{"x":1891,"v":130},{"x":1892,"v":145},{"x":1893,"v":150},{"x":1894,"v":195},{"x":1895,"v":145},{"x":1896,"v":80},{"x":1897,"v":60},{"x":1898,"v":85},{"x":1899,"v":160},{"x":1900,"v":130},{"x":1901,"v":120},{"x":1902,"v":105},{"x":1903,"v":130},{"x":1904,"v":180},{"x":1905,"v":220},{"x":1906,"v":210},{"x":1907,"v":260},{"x":1908,"v":245},{"x":1909,"v":180},{"x":1910,"v":260},{"x":1911,"v":260},{"x":1912,"v":180},{"x":1913,"v":205},{"x":1914,"v":220},{"x":1915,"v":195},{"x":1916,"v":169},{"x":1917,"v":156},{"x":1918,"v":155},{"x":1919,"v":155},{"x":1920,"v":180},{"x":1921,"v":196},{"x":1922,"v":192},{"x":1923,"v":189},{"x":1924,"v":178},{"x":1925,"v":162},{"x":1926,"v":170},{"x":1927,"v":142},{"x":1928,"v":135},{"x":1929,"v":142},{"x":1930,"v":148},{"x":1931,"v":178},{"x":1932,"v":141},{"x":1933,"v":132},{"x":1934,"v":163},{"x":1935,"v":198},{"x":1936,"v":145},{"x":1937,"v":128},{"x":1938,"v":98},{"x":1939,"v":144},{"x":1940,"v":203},{"x":1941,"v":238},{"x":1942,"v":257},{"x":1943,"v":240},{"x":1944,"v":231},{"x":1945,"v":229},{"x":1946,"v":182},{"x":1947,"v":285},{"x":1948,"v":326},{"x":1949,"v":315},{"x":1950,"v":350},{"x":1951,"v":345},{"x":1952,"v":318},{"x":1953,"v":270},{"x":1954,"v":210},{"x":1955,"v":170},{"x":1956,"v":152},{"x":1957,"v":153},{"x":1958,"v":158},{"x":1959,"v":196},{"x":1960,"v":250},{"x":1961,"v":199},{"x":1962,"v":199},{"x":1963,"v":243},{"x":1964,"v":340},{"x":1965,"v":239},{"x":1966,"v":293},{"x":1967,"v":250},{"x":1968,"v":185},{"x":1969,"v":179},{"x":1970,"v":160},{"x":1971,"v":160},{"x":1972,"v":169},{"x":1973,"v":163},{"x":1974,"v":76},{"x":1975,"v":74},{"x":1976,"v":97},{"x":1977,"v":135},{"x":1978,"v":179},{"x":1979,"v":277},{"x":1980,"v":295},{"x":1981,"v":271},{"x":1982,"v":236},{"x":1983,"v":271},{"x":1984,"v":274},{"x":1985,"v":284},{"x":1986,"v":303},{"x":1987,"v":234},{"x":1988,"v":212},{"x":1989,"v":301},{"x":1990,"v":327},{"x":1991,"v":252},{"x":1992,"v":297},{"x":1993,"v":230},{"x":1994,"v":252},{"x":1995,"v":231},{"x":1996,"v":273},{"x":1997,"v":307},{"x":1998,"v":240},{"x":1999,"v":172},{"x":2000,"v":192},{"x":2001,"v":218},{"x":2002,"v":252},{"x":2003,"v":217},{"x":2004,"v":230},{"x":2005,"v":230},{"x":2006,"v":214},{"x":2007,"v":178},{"x":2008,"v":186},{"x":2009,"v":212},{"x":2010,"v":213},{"x":2011,"v":183},{"x":2012,"v":145},{"x":2013,"v":165},{"x":2014,"v":152}
],
"rd": [
{"x":1874,"v":100},{"x":1875,"v":100},{"x":1876,"v":105},{"x":1877,"v":145},{"x":1878,"v":150},{"x":1879,"v":150},{"x":1880,"v":155},{"x":1881,"v":145},{"x":1882,"v":70},{"x":1883,"v":35},{"x":1884,"v":55},{"x":1885,"v":320},{"x":1886,"v":366},{"x":1887,"v":333},{"x":1888,"v":232},{"x":1889,"v":282},{"x":1890,"v":383},{"x":1891,"v":383},{"x":1892,"v":433},{"x":1893,"v":545},{"x":1894,"v":500},{"x":1895,"v":356},{"x":1896,"v":356},{"x":1897,"v":350},{"x":1898,"v":467},{"x":1899,"v":390},{"x":1900,"v":410},{"x":1901,"v":383},{"x":1902,"v":390},{"x":1903,"v":356},{"x":1904,"v":333},{"x":1905,"v":383},{"x":1906,"v":356},{"x":1907,"v":333},{"x":1908,"v":316},{"x":1909,"v":282},{"x":1910,"v":222},{"x":1911,"v":188},{"x":1912,"v":215},{"x":1913,"v":249},{"x":1914,"v":215},{"x":1915,"v":232},{"x":1916,"v":242},{"x":1917,"v":282},{"x":1918,"v":208},{"x":1919,"v":165},{"x":1920,"v":175},{"x":1921,"v":198},{"x":1922,"v":232},{"x":1923,"v":198},{"x":1924,"v":165},{"x":1925,"v":215},{"x":1926,"v":299},{"x":1927,"v":222},{"x":1928,"v":175},{"x":1929,"v":198},{"x":1930,"v":208},{"x":1931,"v":165},{"x":1932,"v":181},{"x":1933,"v":188},{"x":1934,"v":188},{"x":1935,"v":175},{"x":1936,"v":155},{"x":1937,"v":148},{"x":1938,"v":114},{"x":1939,"v":165},{"x":1940,"v":181},{"x":1941,"v":222},{"x":1942,"v":208},{"x":1943,"v":175},{"x":1944,"v":155},{"x":1945,"v":155},{"x":1946,"v":175},{"x":1947,"v":198},{"x":1948,"v":242},{"x":1949,"v":282},{"x":1950,"v":316},{"x":1951,"v":356},{"x":1952,"v":366},{"x":1953,"v":350},{"x":1954,"v":343},{"x":1955,"v":333},{"x":1956,"v":265},{"x":1957,"v":188},{"x":1958,"v":265},{"x":1959,"v":333},{"x":1960,"v":356},{"x":1961,"v":366},{"x":1962,"v":376},{"x":1963,"v":410},{"x":1964,"v":460},{"x":1965,"v":366},{"x":1966,"v":440},{"x":1967,"v":467},{"x":1968,"v":417},{"x":1969,"v":433},{"x":1970,"v":440},{"x":1971,"v":349},{"x":1972,"v":450},{"x":1973,"v":383},{"x":1974,"v":349},{"x":1975,"v":393},{"x":1976,"v":417},{"x":1977,"v":393},{"x":1978,"v":400},{"x":1979,"v":393},{"x":1980,"v":349},{"x":1981,"v":366},{"x":1982,"v":339},{"x":1983,"v":316},{"x":1984,"v":306},{"x":1985,"v":292},{"x":1986,"v":249},{"x":1987,"v":205},{"x":1988,"v":249},{"x":1989,"v":306},{"x":1990,"v":272},{"x":1991,"v":282},{"x":1992,"v":232},{"x":1993,"v":249},{"x":1994,"v":255},{"x":1995,"v":259},{"x":1996,"v":265},{"x":1997,"v":265},{"x":1998,"v":239},{"x":1999,"v":215},{"x":2000,"v":192},{"x":2001,"v":232},{"x":2002,"v":265},{"x":2003,"v":181},{"x":2004,"v":239},{"x":2005,"v":205},{"x":2006,"v":205},{"x":2007,"v":181},{"x":2008,"v":148},{"x":2009,"v":205},{"x":2010,"v":232},{"x":2011,"v":282},{"x":2012,"v":192},{"x":2013,"v":265},{"x":2014,"v":272}
]
},
"bounds": "flush",
"spacing": 21.5,
"vconcat": [
  {
   "width": 982, "height": 127,
   "title": {"text": "Monte de Fiore"},
   "layer": [
    {"data": {"name": "N"}, "mark": {"type": "line", "strokeWidth": 0.9, "clip": true},
     "encoding": {
      "x": {"field": "x", "type": "quantitative", "scale": {"domain": [1874.28, 2019.36], "nice": false, "zero": false}, "axis": {"title": null, "values": [1880,1890,1900,1910,1920,1930,1940,1950,1960,1970,1980,1990,2000,2010], "labels": false}},
      "y": {"field": "v", "type": "quantitative", "scale": {"domain": [-48, 1248], "nice": false}, "axis": {"title": null, "values": [0,200,400,600,800,1000,1200], "labelExpr": "datum.value % 400 == 0 ? '' + datum.value : ''"}},
      "detail": {"field": "s"},
      "color": {"datum": "single series", "scale": {"domain": ["single series", "chronology"], "range": ["#000000", "#ff0000"]},
       "legend": {"orient": "none", "legendX": 10, "legendY": 62, "title": null, "symbolType": "stroke", "symbolSize": 1225, "symbolStrokeWidth": 1.4, "labelFontSize": 17.5, "labelColor": "black", "labelOffset": 14, "clipHeight": 19, "rowPadding": 1}}
     }},
    {"data": {"name": "ra"}, "mark": {"type": "line", "strokeWidth": 1.8, "clip": true},
     "encoding": {"x": {"field": "x", "type": "quantitative"}, "y": {"field": "v", "type": "quantitative"}, "color": {"datum": "chronology"}}},
    {"data": {"values": [{}]}, "mark": {"type": "rule", "color": "#90ee90", "strokeWidth": 3, "strokeDash": [11, 7]}, "encoding": {"x": {"datum": 1973}}},
    {"data": {"values": [{}]}, "mark": {"type": "text", "align": "left", "baseline": "middle", "fontSize": 16.5, "fontWeight": "bold", "color": "black"}, "encoding": {"x": {"datum": 1875.9}, "y": {"datum": 1100}, "text": {"value": "a)"}}},
    {"data": {"values": [{}]}, "mark": {"type": "text", "align": "left", "baseline": "middle", "fontSize": 16.5, "fontWeight": "bold", "color": "black"}, "encoding": {"x": {"datum": 1882.7}, "y": {"datum": 1100}, "text": {"value": "ring–width Monte de Fiore NORTH"}}}
   ]
  },
  {
   "width": 982, "height": 127,
   "layer": [
    {"data": {"name": "S"}, "mark": {"type": "line", "strokeWidth": 0.9, "clip": true, "color": "#000000"},
     "encoding": {
      "x": {"field": "x", "type": "quantitative", "scale": {"domain": [1874.28, 2019.36], "nice": false, "zero": false}, "axis": {"title": null, "values": [1880,1890,1900,1910,1920,1930,1940,1950,1960,1970,1980,1990,2000,2010], "labels": false}},
      "y": {"field": "v", "type": "quantitative", "scale": {"domain": [-48, 1248], "nice": false}, "axis": {"title": "ring width (mm/100)", "titlePadding": 8, "values": [0,200,400,600,800,1000,1200], "labelExpr": "datum.value % 400 == 0 ? '' + datum.value : ''"}},
      "detail": {"field": "s"}
     }},
    {"data": {"name": "rb"}, "mark": {"type": "line", "strokeWidth": 1.8, "clip": true, "color": "#ff0000"},
     "encoding": {"x": {"field": "x", "type": "quantitative"}, "y": {"field": "v", "type": "quantitative"}}},
    {"data": {"values": [{}]}, "mark": {"type": "rule", "color": "#90ee90", "strokeWidth": 3, "strokeDash": [11, 7]}, "encoding": {"x": {"datum": 1973}}},
    {"data": {"values": [{}]}, "mark": {"type": "text", "align": "left", "baseline": "middle", "fontSize": 16.5, "fontWeight": "bold", "color": "black"}, "encoding": {"x": {"datum": 1875.9}, "y": {"datum": 1100}, "text": {"value": "b)"}}},
    {"data": {"values": [{}]}, "mark": {"type": "text", "align": "left", "baseline": "middle", "fontSize": 16.5, "fontWeight": "bold", "color": "black"}, "encoding": {"x": {"datum": 1882.7}, "y": {"datum": 1100}, "text": {"value": "ring–width Monte de Fiore SOUTH"}}}
   ]
  },
  {
   "width": 982, "height": 127,
   "layer": [
    {"data": {"name": "S"}, "mark": {"type": "line", "strokeWidth": 0.9, "clip": true, "color": "#000000"},
     "encoding": {
      "x": {"field": "x", "type": "quantitative", "scale": {"domain": [1874.28, 2019.36], "nice": false, "zero": false}, "axis": {"title": null, "values": [1880,1890,1900,1910,1920,1930,1940,1950,1960,1970,1980,1990,2000,2010], "labels": false}},
      "y": {"field": "v", "type": "quantitative", "scale": {"domain": [-48, 1248], "nice": false}, "axis": {"title": null, "values": [0,200,400,600,800,1000,1200], "labelExpr": "datum.value % 400 == 0 ? '' + datum.value : ''"}},
      "detail": {"field": "s"}
     }},
    {"data": {"name": "N"}, "mark": {"type": "line", "strokeWidth": 0.9, "clip": true, "color": "#000000"},
     "encoding": {"x": {"field": "x", "type": "quantitative"}, "y": {"field": "v", "type": "quantitative"}, "detail": {"field": "s"}}},
    {"data": {"name": "rc"}, "mark": {"type": "line", "strokeWidth": 1.8, "clip": true, "color": "#ff0000"},
     "encoding": {"x": {"field": "x", "type": "quantitative"}, "y": {"field": "v", "type": "quantitative"}}},
    {"data": {"values": [{}]}, "mark": {"type": "rule", "color": "#90ee90", "strokeWidth": 3, "strokeDash": [11, 7]}, "encoding": {"x": {"datum": 1973}}},
    {"data": {"values": [{}]}, "mark": {"type": "text", "align": "left", "baseline": "middle", "fontSize": 16.5, "fontWeight": "bold", "color": "black"}, "encoding": {"x": {"datum": 1875.9}, "y": {"datum": 1100}, "text": {"value": "c)"}}},
    {"data": {"values": [{}]}, "mark": {"type": "text", "align": "left", "baseline": "middle", "fontSize": 16.5, "fontWeight": "bold", "color": "black"}, "encoding": {"x": {"datum": 1882.7}, "y": {"datum": 1100}, "text": {"value": "ring–width Monte de Fiore all"}}}
   ]
  },
  {
   "width": 982, "height": 31,
   "view": {"stroke": null},
   "data": {"values": []},
   "mark": {"type": "point", "opacity": 0},
   "encoding": {}
  },
  {
   "width": 982, "height": 127,
   "title": {"text": "Control", "offset": -3},
   "layer": [
    {"data": {"name": "C"}, "mark": {"type": "line", "strokeWidth": 0.9, "clip": true, "color": "#000000"},
     "encoding": {
      "x": {"field": "x", "type": "quantitative", "scale": {"domain": [1874.28, 2019.36], "nice": false, "zero": false}, "axis": {"title": null, "format": "d", "values": [1880,1890,1900,1910,1920,1930,1940,1950,1960,1970,1980,1990,2000,2010], "labelAngle": 270, "labelFontSize": 13.5, "labelPadding": 3}},
      "y": {"field": "v", "type": "quantitative", "scale": {"domain": [-48, 1248], "nice": false}, "axis": {"title": "ring width (mm/100)", "titlePadding": 8, "values": [0,200,400,600,800,1000,1200], "labelExpr": "datum.value % 400 == 0 ? '' + datum.value : ''"}},
      "detail": {"field": "s"}
     }},
    {"data": {"name": "rd"}, "mark": {"type": "line", "strokeWidth": 1.8, "clip": true, "color": "#ff0000"},
     "encoding": {"x": {"field": "x", "type": "quantitative"}, "y": {"field": "v", "type": "quantitative"}}},
    {"data": {"values": [{}]}, "mark": {"type": "rule", "color": "#90ee90", "strokeWidth": 3, "strokeDash": [11, 7]}, "encoding": {"x": {"datum": 1973}}},
    {"data": {"values": [{}]}, "mark": {"type": "text", "align": "left", "baseline": "middle", "fontSize": 16.5, "fontWeight": "bold", "color": "black"}, "encoding": {"x": {"datum": 1875.9}, "y": {"datum": 1100}, "text": {"value": "d)"}}},
    {"data": {"values": [{}]}, "mark": {"type": "text", "align": "left", "baseline": "middle", "fontSize": 16.5, "fontWeight": "bold", "color": "black"}, "encoding": {"x": {"datum": 1882.7}, "y": {"datum": 1100}, "text": {"value": "ring–width Control all"}}}
   ]
  }
]
}
